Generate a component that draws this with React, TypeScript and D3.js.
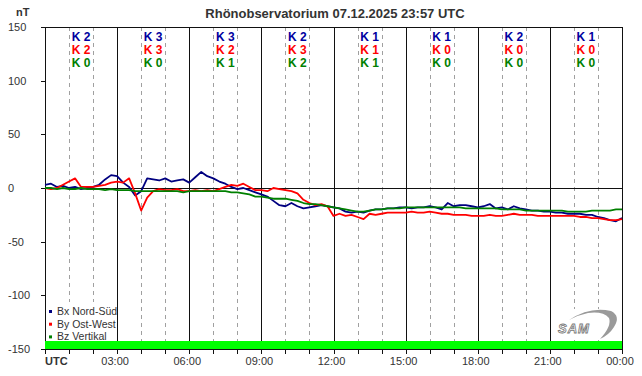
import React from 'react';
import * as d3 from 'd3';

const TITLE = 'Rhönobservatorium 07.12.2025 23:57 UTC';
const Y_TICKS = [150, 100, 50, 0, -50, -100, -150];
const X_LABELS = ['UTC', '03:00', '06:00', '09:00', '12:00', '15:00', '18:00', '21:00', '00:00'];
const K_BX = [2, 3, 3, 2, 1, 1, 2, 1];
const K_BY = [2, 3, 2, 3, 1, 0, 0, 0];
const K_BZ = [0, 0, 1, 2, 1, 0, 0, 0];
const LEGEND = ['Bx Nord-Süd', 'By Ost-West', 'Bz Vertikal'];

// sample times in hours (15-minute steps, 0..24)
const HOURS = d3.range(0, 24.001, 0.25);

const BX = [
  3, 4, 1, 2, 0, 1, -1, 0, 1, 3, 8, 12,
  11, 5, 1, -7, -3, 9, 8, 7, 9, 6, 7, 8,
  5, 10, 15, 11, 9, 6, 4, 1, -1, 0, -2, -4,
  -6, -8, -12, -16, -17, -14, -17, -19, -18, -17, -16, -17,
  -18, -19, -22, -23, -22, -23, -21, -20, -20, -19, -19, -18,
  -18, -19, -18, -18, -17, -18, -20, -14, -17, -16, -16, -17,
  -18, -17, -15, -19, -18, -20, -17, -19, -20, -21, -21, -22,
  -22, -23, -23, -24, -24, -24, -25, -25, -27, -28, -30, -31,
  -28,
];
const BY = [
  0, -1, 0, 3, 6, 9, 1, 1, 1, 2, 3, 5,
  6, 5, 9, -5, -21, -9, -3, -1, -2, -2, -1, -3,
  -3, -2, -3, -2, -3, -1, 1, 3, 2, 4, 1, -2,
  -2, -3, 0, -1, -2, -3, -5, -11, -14, -16, -15, -17,
  -26, -24, -26, -25, -27, -29, -24, -25, -24, -23, -23, -23,
  -23, -22, -23, -23, -22, -23, -24, -24, -25, -25, -25, -26,
  -26, -26, -25, -26, -26, -25, -24, -25, -25, -25, -26, -26,
  -26, -26, -26, -26, -26, -27, -27, -28, -28, -29, -30, -30,
  -29,
];
const BZ = [
  0, 0, -1, 0, -1, -1, 0, -1, -1, -1, -2, -1,
  -2, -2, -2, -3, -3, -3, -3, -3, -3, -3, -3, -4,
  -3, -3, -3, -3, -3, -3, -3, -4, -4, -5, -6, -8,
  -8, -9, -10, -10, -10, -11, -12, -14, -15, -15, -16, -17,
  -18, -19, -20, -21, -22, -22, -21, -20, -20, -19, -19, -19,
  -18, -18, -18, -18, -18, -18, -18, -18, -18, -18, -19, -19,
  -19, -19, -19, -19, -20, -20, -20, -20, -21, -21, -21, -21,
  -21, -21, -21, -22, -22, -22, -22, -21, -21, -21, -21, -20,
  -20,
];

const C_BLUE = '#000080';
const C_RED = '#ff0000';
const C_GREEN = '#008000';
const FONT = 'Arial, "Liberation Sans", sans-serif';

export default function App() {
  const x = d3.scaleLinear().domain([0, 24]).range([45, 622]);
  const y = d3.scaleLinear().domain([-150, 150]).range([349, 27]);
  const px = (h: number) => Math.round(x(h)) + 0.5;
  const py = (v: number) => Math.round(y(v)) + 0.5;
  const mk = (vals: number[]) =>
    d3.line<number>().x((_, i) => x(HOURS[i])).y((d) => y(d))(vals) || '';

  const hours = d3.range(0, 25);
  const series = [
    { vals: BX, color: C_BLUE },
    { vals: BY, color: C_RED },
    { vals: BZ, color: C_GREEN },
  ];
  const kRows = [
    { vals: K_BX, color: '#0000a0', yb: 40.5 },
    { vals: K_BY, color: C_RED, yb: 53.5 },
    { vals: K_BZ, color: C_GREEN, yb: 66.5 },
  ];

  return (
    <svg width={642} height={376} style={{ position: 'absolute', left: 0, top: 0, background: '#fff' }} fontFamily={FONT}>
      <rect x={0} y={0} width={642} height={376} fill="#fff" />
      <text x={335} y={17.5} textAnchor="middle" fontSize={13} fontWeight="bold" fill="#333">{TITLE}</text>
      <text x={16} y={16} fontSize={11} fontWeight="bold" fill="#333">nT</text>

      {/* hourly dashed lines */}
      {hours.filter((h) => h % 3 !== 0).map((h) => (
        <line key={'d' + h} x1={px(h)} x2={px(h)} y1={27} y2={349} stroke="#a0a0a0" strokeDasharray="4,4" strokeWidth={1} />
      ))}
      {/* 3-hour solid lines */}
      {hours.filter((h) => h % 3 === 0).map((h) => (
        <line key={'s' + h} x1={px(h)} x2={px(h)} y1={27} y2={349} stroke="#111" strokeWidth={1} />
      ))}
      {/* top border and zero line */}
      <line x1={45} x2={623} y1={py(150)} y2={py(150)} stroke="#111" />
      <line x1={41} x2={623} y1={py(0)} y2={py(0)} stroke="#111" />

      {/* y ticks + labels */}
      {Y_TICKS.map((t) => (
        <g key={'y' + t}>
          <line x1={41} x2={45} y1={py(t)} y2={py(t)} stroke="#111" />
          <text x={8} y={y(t) + 4} fontSize={11} fill="#333">{t}</text>
        </g>
      ))}

      {/* K indices */}
      {kRows.map((r, ri) =>
        r.vals.map((k, i) => (
          <text key={'k' + ri + '-' + i} x={x(i * 3 + 1.5)} y={r.yb} textAnchor="middle" fontSize={12} fontWeight="bold" fill={r.color}>
            {'K ' + k}
          </text>
        ))
      )}

      {/* data */}
      {series.map((s, i) => (
        <path key={'p' + i} d={mk(s.vals)} fill="none" stroke={s.color} strokeWidth={1.8} strokeLinejoin="round" />
      ))}

      {/* legend */}
      <rect x={46} y={302} width={70} height={39} fill="#fff" />
      {LEGEND.map((l, i) => (
        <g key={'l' + i}>
          <rect x={49} y={310 + i * 12.7} width={3} height={3} fill={series[i].color} />
          <text x={57} y={315 + i * 12.7} fontSize={10.5} fill="#333">{l}</text>
        </g>
      ))}

      {/* SAM logo */}
      <rect x={556} y={309} width={62} height={31} fill="#fff" />
      <path d="M569 320 Q590 306 611 311 Q621 316 614 327 Q609 335 600 339 Q612 326 609 318 Q603 311 588 313 Q578 315 569 320 Z" fill="#9a9a9a" />
      <text x={558} y={333} fontSize={13} fontStyle="italic" fontWeight="bold" fill="#fff" stroke="#777" strokeWidth={0.8} letterSpacing={1}>SAM</text>

      {/* green band and x axis */}
      <rect x={45} y={341} width={577} height={8} fill="#00ff00" />
      <line x1={45} x2={623} y1={349.5} y2={349.5} stroke="#111" />
      {hours.map((h) => (
        <line key={'t' + h} x1={px(h)} x2={px(h)} y1={349} y2={354} stroke="#111" />
      ))}
      {X_LABELS.map((l, i) =>
        i === 0 ? (
          <text key={'x' + i} x={45} y={365} fontSize={11} fontWeight="bold" fill="#333">{l}</text>
        ) : (
          <text key={'x' + i} x={x(i * 3) - 2} y={365} textAnchor="middle" fontSize={11} fill="#333">{l}</text>
        )
      )}
    </svg>
  );
}
